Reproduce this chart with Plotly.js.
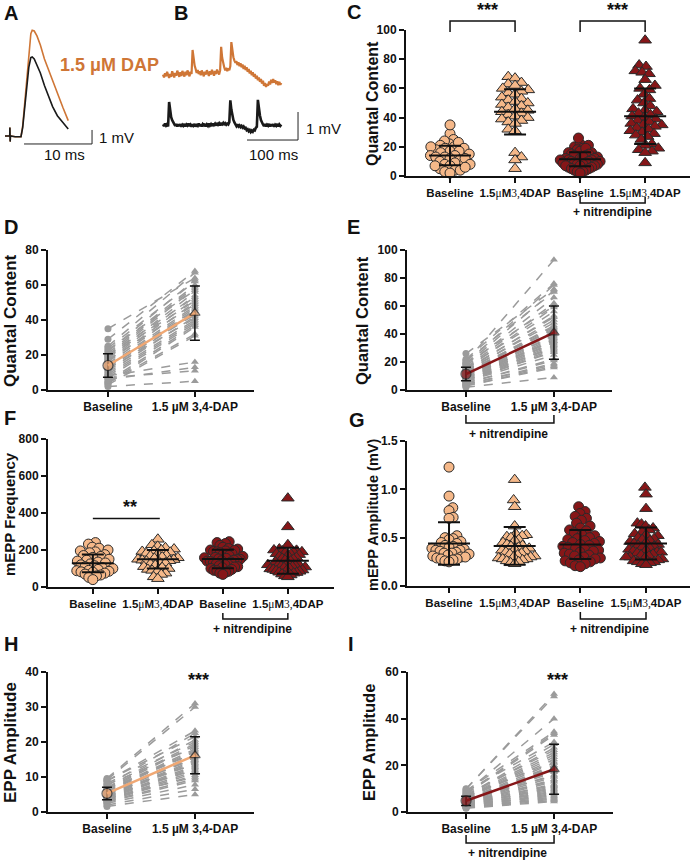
<!DOCTYPE html>
<html>
<head>
<meta charset="utf-8">
<script src="https://cdn.plot.ly/plotly-3.0.1.min.js"></script>
<style>html,body{margin:0;padding:0;background:#fff;}#chart{width:690px;height:862px;}</style>
</head>
<body>
<div id="chart"></div>
<script>
// ---------------- DATA ----------------
// Panel A: evoked EPP traces (time in ms, amplitude in mV)
const tA = [0, 0.70, 0.72, 0.76, 0.80, 1.5, 2.35, 2.6, 2.9, 3.2, 3.5, 3.8, 4.0, 4.3, 4.7, 5.2, 5.8, 6.4, 7.0, 7.7, 8.5, 9.3];
const eppCtrlA = [0, 0, 0.6, -0.4, 0, -0.05, -0.05, 0.6, 2.0, 3.6, 4.9, 5.6, 5.65, 5.5, 5.1, 4.5, 3.6, 2.8, 2.1, 1.45, 0.95, 0.5];
const eppDapA = [0, 0, 0.6, -0.4, 0, -0.05, -0.05, 0.7, 2.4, 4.4, 6.2, 7.3, 7.55, 7.5, 7.15, 6.5, 5.5, 4.7, 3.9, 3.0, 2.05, 1.1];
// Panel B: spontaneous mEPP traces, sampled every 2 ms (mV)
const sampleMsB = 2;
const mEppCtrlB = [0.02,-0.04,0.05,-0.02,0.03,-0.05,0.82,0.48,0.28,0.17,0.08,0.06,-0.03,0.04,-0.05,0.02,-0.04,0.03,-0.06,0.01,
 -0.03,0.04,-0.05,0.02,-0.02,0.05,-0.04,0.01,-0.06,0.03,-0.02,0.04,-0.05,0.00,-0.03,0.05,-0.04,0.02,-0.05,0.03,
 -0.01,0.04,-0.05,0.02,-0.03,0.05,-0.02,0.03,-0.04,0.06,0.00,0.05,-0.02,0.07,0.01,0.06,-0.01,0.05,0.02,0.07,
 0.00,0.06,0.01,0.05,0.02,0.10,0.88,0.55,0.33,0.18,0.09,0.03,-0.04,0.02,-0.05,-0.01,-0.07,-0.03,-0.09,-0.05,
 -0.12,-0.10,-0.18,-0.15,-0.22,-0.18,-0.25,-0.20,-0.24,-0.17,-0.19,-0.10,-0.06,0.90,0.56,0.34,0.18,0.08,0.02,-0.04,
 0.03,-0.05,0.01,-0.03,0.04,-0.05,0.02,-0.04,0.03,-0.06,0.01,-0.03,0.04,-0.05,0.02,-0.03,0.01];
const mEppDapB = [1.80,1.70,1.85,1.74,1.90,1.78,1.68,1.82,1.72,1.92,1.80,1.70,1.86,1.76,1.94,1.82,1.72,1.88,1.75,1.93,
 1.83,1.73,1.90,1.78,1.95,1.84,1.74,1.90,1.82,2.68,2.35,2.12,2.00,1.86,1.96,1.82,1.92,1.78,1.95,1.84,
 1.74,1.90,1.80,1.96,1.85,1.75,1.92,1.80,1.97,1.86,1.76,1.93,1.82,1.98,1.88,1.80,1.95,2.79,2.40,2.20,
 2.06,1.95,2.04,1.92,2.02,1.96,2.10,2.96,2.60,2.42,2.30,2.22,2.28,2.14,2.24,2.10,2.20,2.06,2.16,2.00,
 2.12,1.96,2.06,1.90,2.00,1.84,1.94,1.78,1.88,1.72,1.82,1.66,1.76,1.60,1.70,1.54,1.64,1.48,1.58,1.40,
 1.50,1.36,1.46,1.40,1.55,1.45,1.62,1.50,1.64,1.52,1.60,1.46,1.56,1.42,1.54,1.44,1.50];

// Quantal content (paired cells): control NMJs
const qcBase = [29,25,35,22,24,21,20,19,23,18,17,20,16,19,15,17,14,13,12,14,11,13,10,12,9,8,7,5,4,4,3,8,6,7,2];
const qcDap  = [68,67,64,63,62,60,59,58,57,56,54,53,52,51,50,49,48,47,46,45,44,43,42,41,40,39,38,37,36,32,31,16,13,11,5];
// Quantal content (paired cells): + nitrendipine
const qcNitBase = [20,22,19,26,18,21,17,16,19,15,16,14,15,13,14,12,13,12,13,11,12,11,10,11,10,9,10,9,8,9,8,7,8,7,6,7,6,5,5,4,4,3,3,2];
const qcNitDap  = [93,76,75,72,71,70,66,62,60,59,56,53,52,50,48,46,45,44,43,42,41,40,39,38,37,36,35,35,34,33,32,31,30,29,28,27,25,22,21,19,18,17,16,9];
const qcMean = [14, 44, 11.4, 41];
const qcSD   = [6.7, 15.5, 4.8, 19];

// mEPP frequency
const freqBase = [240,232,215,210,200,195,190,185,175,170,165,160,150,145,140,135,130,125,120,115,110,105,100,95,90,88,85,82,80,75,70,65,60,52,40];
const freqDap  = [258,228,220,212,205,200,195,192,188,182,178,172,168,162,158,155,150,148,145,142,140,135,130,125,118,110,105,100,95,90,85,75,68,55,45];
const freqNitBase = [245,240,235,225,215,208,205,200,198,195,192,190,185,180,175,170,165,160,158,155,152,150,148,145,142,140,138,135,130,125,122,120,115,110,108,105,100,95,90,88,85,80,75,68];
const freqNitDap  = [480,325,228,205,200,198,195,190,188,185,180,178,175,170,165,160,155,150,145,140,135,130,125,120,118,115,112,110,108,105,100,98,95,92,90,88,85,80,78,75,70,65,60,55];
const freqMean = [128, 150, 152, 142];
const freqSD   = [48, 50, 50, 70];

// mEPP amplitude (mV)
const ampBase = [1.23,0.93,0.81,0.78,0.71,0.70,0.52,0.50,0.49,0.48,0.46,0.45,0.44,0.42,0.41,0.40,0.39,0.38,0.37,0.37,0.36,0.35,0.34,0.34,0.33,0.32,0.31,0.30,0.30,0.29,0.28,0.28,0.27,0.26,0.25];
const ampDap  = [1.10,0.89,0.82,0.62,0.54,0.53,0.52,0.51,0.50,0.48,0.47,0.45,0.43,0.42,0.41,0.40,0.39,0.38,0.37,0.36,0.35,0.34,0.33,0.32,0.31,0.30,0.30,0.29,0.28,0.28,0.27,0.26,0.25,0.24,0.23];
const ampNitBase = [0.82,0.77,0.75,0.72,0.70,0.68,0.65,0.62,0.60,0.58,0.57,0.55,0.53,0.52,0.50,0.49,0.48,0.47,0.46,0.45,0.44,0.43,0.42,0.41,0.40,0.39,0.38,0.37,0.36,0.35,0.34,0.33,0.32,0.31,0.30,0.29,0.28,0.27,0.26,0.25,0.24,0.23,0.21,0.20];
const ampNitDap  = [1.02,0.95,0.80,0.65,0.64,0.62,0.60,0.58,0.56,0.54,0.53,0.52,0.50,0.49,0.48,0.47,0.46,0.45,0.44,0.43,0.42,0.41,0.40,0.39,0.38,0.37,0.36,0.35,0.35,0.34,0.33,0.32,0.31,0.30,0.30,0.29,0.28,0.27,0.26,0.25,0.25,0.24,0.23,0.22];
const ampMean = [0.44, 0.415, 0.43, 0.44];
const ampSD   = [0.22, 0.195, 0.15, 0.165];

// EPP amplitude (paired)
const eppBase = [9.6,9.2,8.8,7.5,9.0,7.0,8.2,6.8,6.5,7.8,6.2,6.0,5.8,6.6,5.5,5.2,5.0,5.6,4.8,4.6,4.4,5.3,4.2,4.0,3.8,4.5,3.6,3.4,3.2,3.9,3.0,2.8,2.5,2.0,1.6];
const eppDap  = [31,30,23.2,22.5,21.5,20.6,20,19.5,19,18.5,18,17.6,17.2,16.8,16.4,16,15.6,15.2,14.8,14.4,14,13.6,13.2,12.8,12.4,12,11.6,11.1,10.5,10,9.5,9,7.8,6.5,5];
const eppNitBase = [9.8,10,8.5,9.2,8.0,7.6,8.8,7.0,6.8,7.4,6.5,6.2,6.0,5.8,6.6,5.5,5.2,5.0,5.6,4.8,4.6,4.4,4.2,5.3,4.0,3.8,4.1,3.6,3.4,3.7,3.2,3.0,3.3,2.8,2.6,2.9,2.4,2.2,2.5,2.0,1.9,2.1,1.8,1.6];
const eppNitDap  = [50.6,49.5,40,34.4,33.7,33,30,29,27.5,26.5,25.5,24.5,23.5,22.5,21.5,21,20,19.5,19,18,17.5,17,16,15.5,15,14,13.5,13,12,11.5,11,10.5,10,9.5,9,8.5,8,7.5,7,6.5,6,5.5,5,4.5];

// Paired means ± SD  [baseline, DAP]
const pairQcMean = [14, 44],   pairQcSD = [6.7, 15.5];
const pairQcNitMean = [11.4, 41], pairQcNitSD = [4.8, 19];
const pairEppMean = [5.3, 16.2], pairEppSD = [1.8, 5.3];
const pairEppNitMean = [4.8, 18.3], pairEppNitSD = [2.0, 10.7];

// Labels
const groupLabels4 = ['Baseline',
  '1.5<span style="font-family:Liberation Serif;font-weight:normal">μ</span>M<span style="font-family:Liberation Serif;font-weight:normal">3,</span>4DAP',
  'Baseline',
  '1.5<span style="font-family:Liberation Serif;font-weight:normal">μ</span>M<span style="font-family:Liberation Serif;font-weight:normal">3,</span>4DAP'];
const groupLabels2 = ['Baseline', '1.5 µM 3,4-DAP'];

// ---------------- STYLE / LAYOUT ----------------
const W = 690, H = 862;
const FONT = 'Liberation Sans, Arial, Helvetica, sans-serif';
const PEACH = '#F5B889', DARKRED = '#861618', TRACEORANGE = '#CF7636', GRAY = '#9B9B9B', INK = '#111';
const px = x => x / W, py = y => 1 - y / H;

function xAx(d, r, vals, text, anchor, fs, visible) {
  if (visible === false) return {domain:[px(d[0]),px(d[1])], range:r, anchor, visible:false, fixedrange:true};
  return {domain:[px(d[0]),px(d[1])], range:r, anchor, showline:true, linecolor:INK, linewidth:2,
    ticks:'outside', ticklen:5, tickwidth:2, tickcolor:INK, tickvals:vals, ticktext:text,
    tickfont:{family:FONT, size:fs, color:INK, weight:'bold'}, showgrid:false, zeroline:false, fixedrange:true};
}
function yAx(d, r, vals, anchor, fmt, visible) {
  if (visible === false) return {domain:[py(d[1]),py(d[0])], range:r, anchor, visible:false, fixedrange:true};
  return {domain:[py(d[1]),py(d[0])], range:r, anchor, showline:true, linecolor:INK, linewidth:2,
    ticks:'outside', ticklen:5, tickwidth:2, tickcolor:INK, tickvals:vals, tickformat:fmt||'',
    tickfont:{family:FONT, size:12, color:INK, weight:'bold'}, showgrid:false, zeroline:false, fixedrange:true};
}

const layout = {
  width: W, height: H, margin:{l:0,r:0,t:0,b:0}, paper_bgcolor:'#fff', plot_bgcolor:'rgba(0,0,0,0)',
  showlegend:false, font:{family:FONT, color:INK},
  xaxis:  xAx([0,100], [-0.735, 13.97], null, null, 'y', 12, false),
  yaxis:  yAx([20,150], [-1.0, 8.286], null, 'x', '', false),
  xaxis2: xAx([160,302], [-5.88, 272.5], null, null, 'y2', 12, false),
  yaxis2: yAx([35,145], [-0.714, 3.214], null, 'x2', '', false),
  xaxis3: xAx([406,690], [0.323, 4.69], [1,2,3,4], groupLabels4, 'y3', 11.5),
  yaxis3: yAx([30,176], [0,100], [0,20,40,60,80,100], 'x3'),
  xaxis4: xAx([48,254], [0.31, 2.68], [1,2], groupLabels2, 'y4', 12),
  yaxis4: yAx([250,390], [0,80], [0,20,40,60,80], 'x4'),
  xaxis5: xAx([407,612], [0.33, 2.66], [1,2], groupLabels2, 'y5', 12),
  yaxis5: yAx([250,390], [0,100], [0,20,40,60,80,100], 'x5'),
  xaxis6: xAx([48,334], [0.31, 4.71], [1,2,3,4], groupLabels4, 'y6', 11.5),
  yaxis6: yAx([439,587], [0,800], [0,200,400,600,800], 'x6'),
  xaxis7: xAx([407,690], [0.36, 4.67], [1,2,3,4], groupLabels4, 'y7', 11.5),
  yaxis7: yAx([441,586], [0,1.5], [0,0.5,1.0,1.5], 'x7', '.1f'),
  xaxis8: xAx([48,254], [0.33, 2.67], [1,2], groupLabels2, 'y8', 12),
  yaxis8: yAx([672,812], [0,40], [0,10,20,30,40], 'x8'),
  xaxis9: xAx([408,613], [0.34, 2.67], [1,2], groupLabels2, 'y9', 12),
  yaxis9: yAx([672,812], [0,60], [0,20,40,60], 'x9'),
  shapes: [], annotations: []
};

const traces = [];

// ---- Panel A & B traces ----
traces.push({type:'scatter', mode:'lines', x:tA, y:eppDapA, xaxis:'x', yaxis:'y', line:{color:TRACEORANGE, width:1.6}, hoverinfo:'skip'});
traces.push({type:'scatter', mode:'lines', x:tA, y:eppCtrlA, xaxis:'x', yaxis:'y', line:{color:'#1a1a1a', width:1.6}, hoverinfo:'skip'});
traces.push({type:'scatter', mode:'lines', x0:0, dx:sampleMsB, y:mEppDapB, xaxis:'x2', yaxis:'y2', line:{color:TRACEORANGE, width:2.2}, hoverinfo:'skip'});
traces.push({type:'scatter', mode:'lines', x0:0, dx:sampleMsB, y:mEppCtrlB, xaxis:'x2', yaxis:'y2', line:{color:'#1a1a1a', width:2.6}, hoverinfo:'skip'});
// scale bars
layout.shapes.push({type:'path', xref:'x', yref:'y', path:'M2.8,-0.57 L12.8,-0.57 L12.8,0.43', line:{color:'#222', width:1}});
layout.shapes.push({type:'path', xref:'x2', yref:'y2', path:'M164.7,-0.536 L264.7,-0.536 L264.7,0.464', line:{color:'#222', width:1}});

// ---- beeswarm helper (pixel offsets, then compressed to a max half-width) ----
function swarm(vals, pxPerUnit, diam, maxHalf) {
  const order = vals.map((v,i)=>i).sort((a,b)=>vals[a]-vals[b]);
  const placed = [], off = new Array(vals.length);
  let flip = 1;
  for (const i of order) {
    const y = vals[i]*pxPerUnit;
    const near = placed.filter(p=>Math.abs(p.y-y) < diam);
    const cands = [0];
    near.forEach(p=>{ const h = Math.sqrt(diam*diam - (p.y-y)*(p.y-y)); cands.push(p.x+h, p.x-h); });
    cands.sort((a,b)=>(Math.abs(a)-Math.abs(b)) || (flip*(b-a)));
    const x = cands.find(c=>near.every(p=>(p.x-c)*(p.x-c)+(p.y-y)*(p.y-y) >= diam*diam-1e-6));
    off[i] = x; placed.push({x, y}); flip = -flip;
  }
  const m = Math.max(...off.map(Math.abs));
  const k = m > maxHalf ? maxHalf / m : 1;
  return off.map(o=>o*k);
}

function swarmPanel(xa, ya, groups, cols, syms, means, sds, pxX, pxY) {
  groups.forEach((vals,g)=>{
    const off = swarm(vals, pxY, 7, 20);
    traces.push({type:'scatter', mode:'markers', xaxis:xa, yaxis:ya, cliponaxis:false, hoverinfo:'skip',
      x: vals.map((v,i)=>g+1+off[i]/pxX), y: vals,
      marker:{color:cols[g], symbol:syms[g], size: syms[g]==='circle'?10:11, line:{color:'#2a2a2a', width:1}}});
  });
  const mx = [], my = [];
  means.forEach((m,g)=>{ mx.push(g+1-21/pxX, g+1+21/pxX, null); my.push(m, m, null); });
  traces.push({type:'scatter', mode:'lines', xaxis:xa, yaxis:ya, x:mx, y:my, line:{color:INK, width:2}, hoverinfo:'skip', cliponaxis:false});
  traces.push({type:'scatter', mode:'markers', xaxis:xa, yaxis:ya, x:means.map((m,g)=>g+1), y:means,
    marker:{size:2, color:'rgba(0,0,0,0)'}, hoverinfo:'skip', cliponaxis:false,
    error_y:{type:'data', array:sds, visible:true, color:INK, thickness:2, width:11}});
}

const COLS = [PEACH, PEACH, DARKRED, DARKRED];
const SYMS = ['circle','triangle-up','circle','triangle-up'];
swarmPanel('x3','y3',[qcBase,qcDap,qcNitBase,qcNitDap], COLS, SYMS, qcMean, qcSD, 65, 1.46);
swarmPanel('x6','y6',[freqBase,freqDap,freqNitBase,freqNitDap], COLS, SYMS, freqMean, freqSD, 65, 0.185);
swarmPanel('x7','y7',[ampBase,ampDap,ampNitBase,ampNitDap], COLS, SYMS, ampMean, ampSD, 65.67, 96.7);

// ---- paired panels ----
function pairedPanel(xa, ya, base, dap, mean, sd, meanCol) {
  const lx = [], ly = [];
  base.forEach((b,i)=>{ lx.push(1, 2, null); ly.push(b, dap[i], null); });
  traces.push({type:'scatter', mode:'lines', xaxis:xa, yaxis:ya, x:lx, y:ly, line:{color:GRAY, width:1.5, dash:'dash'}, hoverinfo:'skip', cliponaxis:false});
  traces.push({type:'scatter', mode:'markers', xaxis:xa, yaxis:ya, x:base.map(()=>1), y:base, marker:{color:GRAY, size:7, symbol:'circle'}, hoverinfo:'skip', cliponaxis:false});
  traces.push({type:'scatter', mode:'markers', xaxis:xa, yaxis:ya, x:dap.map(()=>2), y:dap, marker:{color:GRAY, size:7, symbol:'triangle-up'}, hoverinfo:'skip', cliponaxis:false});
  traces.push({type:'scatter', mode:'lines+markers', xaxis:xa, yaxis:ya, x:[1,2], y:mean, hoverinfo:'skip', cliponaxis:false,
    line:{color:meanCol, width:2.5},
    marker:{color:meanCol, size:[10,9], symbol:['circle','triangle-up'], line:{color:'#222', width:1.2}},
    error_y:{type:'data', array:sd, visible:true, color:INK, thickness:1.5, width:5}});
}
pairedPanel('x4','y4', qcBase, qcDap, pairQcMean, pairQcSD, '#F0A874');
pairedPanel('x5','y5', qcNitBase, qcNitDap, pairQcNitMean, pairQcNitSD, DARKRED);
pairedPanel('x8','y8', eppBase, eppDap, pairEppMean, pairEppSD, '#F0A874');
pairedPanel('x9','y9', eppNitBase, eppNitDap, pairEppNitMean, pairEppNitSD, DARKRED);

// ---- annotations ----
function ann(text, x, y, o) {
  layout.annotations.push(Object.assign({text, x:px(x), y:py(y), xref:'paper', yref:'paper', showarrow:false,
    xanchor:'center', yanchor:'middle', font:{family:FONT, size:12, color:INK, weight:'bold'}}, o||{}));
}
// panel letters
[['A',2,13],['B',172,13],['C',345,12],['D',2,227],['E',345,227],['F',2,418],['G',347,420],['H',2,644],['I',346,644]]
  .forEach(([t,x,y])=>ann(t, x, y, {xanchor:'left', font:{family:FONT, size:20, color:INK, weight:'bold'}}));
// trace labels
ann('1.5 μM DAP', 58, 65, {xanchor:'left', font:{family:FONT, size:18, color:TRACEORANGE, weight:'bold'}});
ann('1 mV', 97, 137, {xanchor:'left', font:{family:FONT, size:15, color:INK, weight:'normal'}});
ann('10 ms', 64, 154, {font:{family:FONT, size:15, color:INK, weight:'normal'}});
ann('1 mV', 304, 128, {xanchor:'left', font:{family:FONT, size:15, color:INK, weight:'normal'}});
ann('100 ms', 273, 154, {font:{family:FONT, size:15, color:INK, weight:'normal'}});
// y titles
const yt = (t, x, y, s) => ann(t, x, y, {textangle:-90, font:{family:FONT, size:s, color:INK, weight:'bold'}});
yt('Quantal Content', 372, 104, 16);
yt('Quantal Content', 10, 321, 17);
yt('Quantal Content', 362, 321, 16.5);
yt('mEPP Frequency', 9, 514, 15);
yt('mEPP Amplitude (mV)', 373, 515, 14.5);
yt('EPP Amplitude', 10, 743, 17);
yt('EPP Amplitude', 369, 743, 16.5);
// significance
const star = (t, x, y) => ann(t, x, y, {font:{family:FONT, size:18, color:INK, weight:'bold'}});
star('***', 487, 10); star('***', 617, 10);
star('**', 130, 507);
star('***', 198, 680); star('***', 557, 680);
layout.shapes.push({type:'path', xref:'x3', yref:'paper', path:`M1,${py(32)} L1,${py(21)} L2,${py(21)} L2,${py(32)}`, line:{color:INK, width:1.5}});
layout.shapes.push({type:'path', xref:'x3', yref:'paper', path:`M3,${py(32)} L3,${py(21)} L4,${py(21)} L4,${py(32)}`, line:{color:INK, width:1.5}});
layout.shapes.push({type:'line', xref:'x6', yref:'y6', x0:1, x1:2.03, y0:370, y1:370, line:{color:INK, width:1.5}});
// nitrendipine brackets
function bracket(xa, c0, c1, ytop, ybot, tx, ty) {
  layout.shapes.push({type:'path', xref:xa, yref:'paper',
    path:`M${c0},${py(ytop)} L${c0},${py(ybot)} L${c1},${py(ybot)} L${c1},${py(ytop)}`, line:{color:INK, width:1.5}});
  ann('+ nitrendipine', tx, ty);
}
bracket('x3', 3, 4, 197, 203, 612, 212);
bracket('x5', 1, 2, 415, 423, 508, 434);
bracket('x6', 3, 4, 613, 619, 252, 629);
bracket('x7', 3, 4, 612, 619, 609, 629);
bracket('x9', 1, 2, 835, 843, 507, 853);

Plotly.newPlot('chart', traces, layout, {staticPlot:true, displayModeBar:false});
</script>
</body>
</html>
